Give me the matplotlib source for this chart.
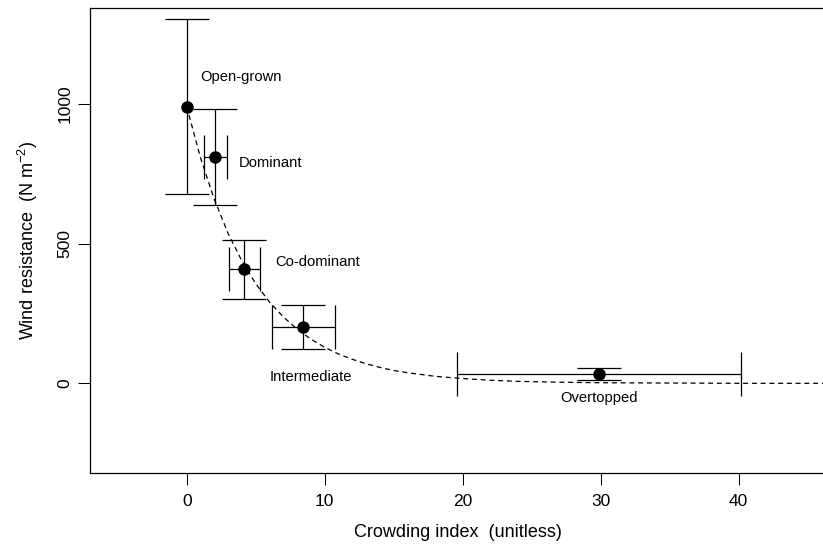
import numpy as np
import matplotlib
matplotlib.use('Agg')
import matplotlib.pyplot as plt

plt.rcParams['font.family'] = ['Liberation Sans', 'DejaVu Sans']

# crown classes, with means and error half-widths
groups = ['Open-grown', 'Dominant', 'Co-dominant', 'Intermediate', 'Overtopped']
crowd = [0.0, 2.07, 4.16, 8.46, 29.88]
crowd_err = [0.0, 0.82, 1.12, 2.27, 10.27]
resist = [991, 810, 409, 201, 33]
resist_err = [313, 171, 106, 79, 21]

# fitted decay curve (dashed)
curve_x = [0, 1, 2, 3, 4, 5, 6, 7, 8, 9, 10, 11, 12, 13, 14, 15, 16, 18, 20,
           22, 24, 27, 30, 35, 40, 46.5]
curve_y = [991, 808, 659, 537, 438, 357, 291, 238, 194, 158, 129, 105, 86, 70,
           57, 46, 38, 25, 17, 11, 7, 4, 2, 1, 0, 0]

# where each class name sits
label_x = [3.97, 6.04, 9.52, 9.0, 29.9]
label_y = [1097, 790, 436, 23, -53]

fig = plt.figure(figsize=(8.23, 5.45), dpi=100)
W, H = 823, 545
ax = fig.add_axes([90 / W, (H - 473.3) / H, (W - 90) / W, (473.3 - 8) / H])

ax.plot(curve_x, curve_y, color='black', lw=0.9, ls=(0, (4, 3)), zorder=1)

# vertical bars for all classes, horizontal ones where there is spread in x
ax.errorbar(crowd, resist, yerr=resist_err, fmt='none', ecolor='black',
            elinewidth=0.9, capsize=15.8, capthick=0.9, zorder=2)
ax.errorbar(crowd[1:], resist[1:], xerr=crowd_err[1:], fmt='none', ecolor='black',
            elinewidth=0.9, capsize=15.8, capthick=0.9, zorder=2)
ax.plot(crowd, resist, 'o', color='black', ms=8, zorder=3)

for name, lx, ly in zip(groups, label_x, label_y):
    ax.text(lx, ly, name, ha='center', va='center', fontsize=10.6)

ax.set_xlim(-7.007, 46.11)
ax.set_ylim(-322.3, 1344.2)
ax.set_xticks([0, 10, 20, 30, 40])
ax.set_yticks([0, 500, 1000])
ax.set_yticklabels(['0', '500', '1000'], rotation=90, va='center')
ax.tick_params(direction='out', length=8.6, width=0.75, labelsize=12.5)
ax.tick_params(axis='x', pad=6)
ax.tick_params(axis='y', pad=4)
for s in ax.spines.values():
    s.set_linewidth(0.9)
ax.spines['right'].set_visible(False)

ax.set_xlabel('Crowding index  (unitless)', fontsize=13, va='center')
ax.xaxis.set_label_coords((458 - 90) / (W - 90), (473.3 - 532.7) / 465.3)
ax.set_ylabel(r'Wind resistance  (N m$\mathregular{^{-2}}$)', fontsize=13, va='center')
ax.yaxis.set_label_coords((28 - 90) / (W - 90), 0.5)

plt.savefig('out.png', dpi=100)
